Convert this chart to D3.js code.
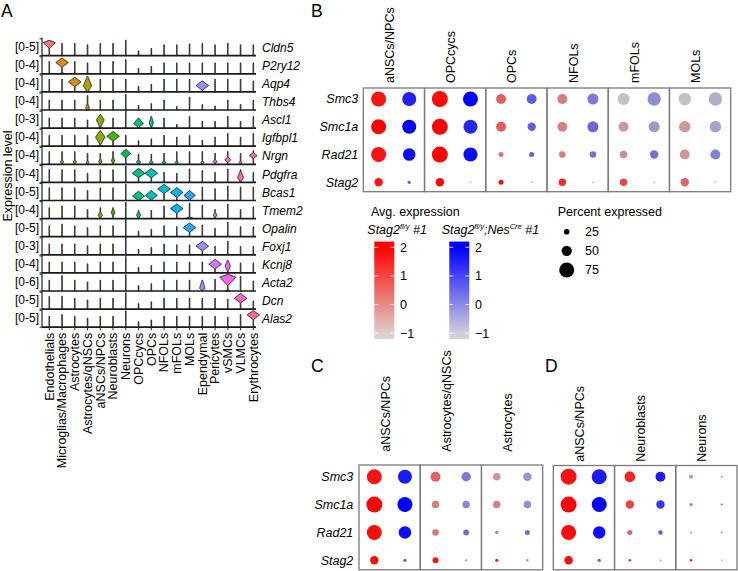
<!DOCTYPE html>
<html><head><meta charset="utf-8">
<script src="https://cdn.jsdelivr.net/npm/d3@7"></script>
<style>
body{margin:0;background:#fff;}
svg text{font-family:"Liberation Sans",Arial,Helvetica,sans-serif;fill:#000;}
</style></head><body>
<svg id="chart" width="738" height="571"></svg>
<script>
// ---------------- DATA ----------------
const cellTypesA = ["Endothelials","Microglias/Macrophages","Astrocytes","Astrocytes/qNSCs","aNSCs/NPCs","Neuroblasts","Neurons","OPCcycs","OPCs","NFOLs","mFOLs","MOLs","Ependymal","Pericytes","vSMCs","VLMCs","Erythrocytes"];
const genesA = ["Cldn5","P2ry12","Aqp4","Thbs4","Ascl1","Igfbpl1","Nrgn","Pdgfra","Bcas1","Tmem2","Opalin","Foxj1","Kcnj8","Acta2","Dcn","Alas2"];
const rangeLabelsA = ["[0-5]","[0-4]","[0-4]","[0-4]","[0-3]","[0-4]","[0-4]","[0-4]","[0-5]","[0-4]","[0-5]","[0-3]","[0-4]","[0-6]","[0-5]","[0-5]"];
// maximum expression per gene x cell type (fraction of the row's range)
const maxA = [
 [0.85,0.68,0.68,0.6,0.68,0.68,0.85,0.26,0.4,0.6,0.6,0.65,0.68,0.6,0.68,0.6,0.6],
 [0.68,0.86,0.68,0.6,0.68,0.68,0.78,0.3,0.4,0.6,0.6,0.6,0.6,0.6,0.6,0.6,0.6],
 [0.7,0.7,0.8,0.86,0.7,0.7,0.7,0.3,0.42,0.7,0.7,0.7,0.6,0.7,0.7,0.7,0.6],
 [0.55,0.55,0.55,0.8,0.55,0.55,0.85,0.25,0.35,0.55,0.2,0.7,0.3,0.22,0.55,0.3,0.55],
 [0.55,0.55,0.55,0.45,0.75,0.55,1.0,0.55,0.64,0.55,0.2,0.64,0.37,0.37,0.64,0.37,0.64],
 [0.6,0.6,0.6,0.6,0.85,0.8,0.6,0.3,0.4,0.6,0.5,0.6,0.33,0.5,0.7,0.5,0.7],
 [0.7,0.7,0.7,0.6,0.6,0.7,0.83,0.55,0.55,0.6,0.7,0.7,0.7,0.6,0.7,0.6,0.75],
 [0.7,0.7,0.7,0.5,0.7,0.7,0.9,0.76,0.76,0.55,0.5,0.74,0.65,0.55,0.74,0.7,0.55],
 [0.7,0.7,0.7,0.55,0.7,0.7,0.9,0.5,0.55,0.88,0.7,0.55,0.74,0.65,0.8,0.74,0.74],
 [0.6,0.7,0.7,0.5,0.6,0.6,0.9,0.45,0.45,0.7,0.8,0.85,0.74,0.5,0.8,0.5,0.65],
 [0.6,0.7,0.6,0.5,0.6,0.6,0.95,0.3,0.4,0.6,0.55,0.75,0.64,0.46,0.8,0.55,0.55],
 [0.6,0.6,0.6,0.5,0.6,0.6,1.0,0.3,0.4,0.6,0.55,0.55,0.74,0.46,0.74,0.46,0.46],
 [0.6,0.6,0.6,0.5,0.6,0.6,0.9,0.3,0.4,0.6,0.6,0.6,0.6,0.74,0.7,0.55,0.55],
 [0.6,0.85,0.6,0.5,0.6,0.6,0.9,0.3,0.4,0.6,0.6,0.6,0.6,0.65,0.92,0.8,0.55],
 [0.7,0.7,0.6,0.5,0.6,0.6,0.9,0.3,0.4,0.6,0.6,0.6,0.6,0.6,0.55,0.85,0.45],
 [0.6,0.7,0.6,0.5,0.6,0.6,0.9,0.3,0.4,0.6,0.6,0.6,0.6,0.6,0.55,0.7,0.9]
];
// violin bodies: [gene, cell, mode, spread above, spread below, density, density at zero]
const violinsA = [
 ["Cldn5","Endothelials",0.72,0.13,0.3,0.95,0],
 ["P2ry12","Microglias/Macrophages",0.62,0.24,0.24,1,0.35],
 ["Aqp4","Astrocytes",0.55,0.25,0.25,1,0],
 ["Aqp4","Astrocytes/qNSCs",0.33,0.53,0.3,0.65,0.5],
 ["Aqp4","Ependymal",0.35,0.25,0.25,1,0],
 ["Thbs4","Astrocytes/qNSCs",0.1,0.25,0.1,0.25,0.2],
 ["Ascl1","aNSCs/NPCs",0.45,0.3,0.4,0.6,0.2],
 ["Ascl1","OPCcycs",0.25,0.3,0.2,0.75,0.2],
 ["Ascl1","OPCs",0.28,0.36,0.25,0.3,0.1],
 ["Igfbpl1","aNSCs/NPCs",0.5,0.35,0.4,0.75,0.4],
 ["Igfbpl1","Neuroblasts",0.55,0.25,0.25,1,0],
 ["Nrgn","Neurons",0.59,0.24,0.22,0.75,0],
 ["Nrgn","Microglias/Macrophages",0.12,0.15,0.1,0.2,0],
 ["Nrgn","Astrocytes",0.12,0.15,0.1,0.2,0],
 ["Nrgn","Astrocytes/qNSCs",0.1,0.12,0.1,0.15,0],
 ["Nrgn","aNSCs/NPCs",0.15,0.15,0.12,0.2,0],
 ["Nrgn","Neuroblasts",0.2,0.15,0.15,0.25,0],
 ["Nrgn","OPCcycs",0.12,0.12,0.1,0.3,0],
 ["Nrgn","OPCs",0.1,0.12,0.1,0.25,0],
 ["Nrgn","NFOLs",0.1,0.1,0.1,0.25,0],
 ["Nrgn","mFOLs",0.1,0.1,0.1,0.2,0],
 ["Nrgn","Ependymal",0.1,0.1,0.1,0.2,0],
 ["Nrgn","Pericytes",0.15,0.12,0.1,0.3,0],
 ["Nrgn","vSMCs",0.25,0.15,0.15,0.45,0],
 ["Nrgn","VLMCs",0.1,0.1,0.1,0.15,0],
 ["Nrgn","Erythrocytes",0.48,0.15,0.15,0.6,0],
 ["Pdgfra","OPCcycs",0.51,0.25,0.25,1,0],
 ["Pdgfra","OPCs",0.51,0.25,0.25,1,0],
 ["Pdgfra","VLMCs",0.28,0.35,0.25,0.45,0],
 ["Bcas1","OPCcycs",0.24,0.26,0.24,0.95,0],
 ["Bcas1","OPCs",0.28,0.26,0.25,0.95,0],
 ["Bcas1","NFOLs",0.64,0.24,0.25,1,0],
 ["Bcas1","mFOLs",0.44,0.26,0.25,1,0],
 ["Bcas1","MOLs",0.28,0.26,0.25,0.9,0],
 ["Tmem2","mFOLs",0.55,0.25,0.25,1,0],
 ["Tmem2","aNSCs/NPCs",0.18,0.2,0.15,0.3,0],
 ["Tmem2","Neuroblasts",0.35,0.2,0.2,0.25,0],
 ["Tmem2","OPCcycs",0.18,0.2,0.15,0.3,0],
 ["Tmem2","Pericytes",0.2,0.15,0.15,0.25,0],
 ["Tmem2","MOLs",0.03,0.06,0.03,0.3,0.3],
 ["Opalin","MOLs",0.5,0.25,0.25,1,0],
 ["Foxj1","Ependymal",0.48,0.25,0.25,1,0],
 ["Kcnj8","Pericytes",0.48,0.26,0.25,1,0],
 ["Kcnj8","vSMCs",0.37,0.33,0.3,0.4,0],
 ["Acta2","vSMCs",0.76,0.16,0.46,1.3,0.35],
 ["Acta2","Ependymal",0.15,0.45,0.15,0.4,0],
 ["Dcn","VLMCs",0.6,0.25,0.25,1,0],
 ["Alas2","Erythrocytes",0.68,0.22,0.25,1,0]
];

const genesDot = ["Smc3","Smc1a","Rad21","Stag2"];
const genotypes = ["Stag2fl/y #1","Stag2fl/y;NesCre #1"];
// Panel B
const cellsB = ["aNSCs/NPCs","OPCcycs","OPCs","NFOLs","mFOLs","MOLs"];
const avgB_ctrl = [[1.7,2.0,1.7,1.6],[1.8,2.0,2.0,2.0],[0.5,0.6,0.2,1.8],[0.1,0.0,0.1,1.3],[-1.0,-0.3,-0.2,0.9],[-1.0,-0.4,-0.3,0.4]];
const avgB_mut  = [[1.5,2.0,1.8,0.5],[2.0,1.4,1.85,-0.8],[0.6,0.5,0.5,-0.8],[0.1,0.4,0.3,-0.8],[-0.2,-0.4,0.3,-0.8],[-0.7,-0.5,0.0,-0.8]];
const pctB_ctrl = [[75,75,75,40],[80,80,80,40],[48,48,22,22],[48,48,30,35],[59,48,35,35],[62,57,48,40]];
const pctB_mut  = [[70,70,62,13],[75,70,70,5],[48,40,22,5],[54,54,30,5],[66,54,40,5],[66,57,48,5]];
// Panel C
const cellsC = ["aNSCs/NPCs","Astrocytes/qNSCs","Astrocytes"];
const avgC_ctrl = [[1.7,2.0,1.8,1.8],[0.5,0.0,0.2,1.7],[-0.3,0.0,0.2,1.5]];
const avgC_mut  = [[1.6,2.0,1.8,0.5],[0.1,-0.1,0.3,0.0],[-0.3,-0.2,0.3,-0.3]];
const pctC_ctrl = [[75,80,75,40],[48,35,30,27],[35,35,13,13]];
const pctC_mut  = [[70,75,62,13],[45,35,27,6],[40,35,22,8]];
// Panel D
const cellsD = ["aNSCs/NPCs","Neuroblasts","Neurons"];
const avgD_ctrl = [[1.7,2.0,1.8,1.8],[1.5,1.0,0.5,1.3],[-0.2,0.1,-0.3,1.8]];
const avgD_mut  = [[1.6,2.0,1.8,0.5],[1.6,1.2,0.6,-0.3],[-0.3,0.4,-0.3,-0.8]];
const pctD_ctrl = [[80,80,75,40],[52,40,22,9],[17,13,6,8]];
const pctD_mut  = [[75,75,62,13],[48,40,19,5],[6,6,6,4]];
// legends
const avgTicks = [2,1,0,-1];
const pctTicks = [25,50,75];

// ---------------- STYLES ----------------
const hue17 = ["#F8766D","#E7851E","#D09400","#B2A100","#89AC00","#45B500","#00BC51","#00C087","#00C0B2","#00BCD6","#00B3F2","#29A3FF","#9C8DFF","#D277FF","#F166E8","#FF61C7","#FF689E"];

const svg = d3.select("#chart");

// ---------------- PANEL A ----------------
const xA = d3.scaleBand().domain(cellTypesA).range([42.9, 259.7]);
const rowA = d3.scaleBand().domain(genesA).range([37.6, 327.2]);
const rh = rowA.bandwidth();
const wA = d3.scaleLinear().domain([0, 1]).range([0, 6.0]);
const colorA = d3.scaleOrdinal().domain(cellTypesA).range(hue17);
const gA = svg.append("g");

genesA.forEach((g, gi) => {
  const base = rowA(g) + rh;
  const tY = d3.scaleLinear().domain([0, 1]).range([base, base - rh]);
  cellTypesA.forEach((c, ci) => {
    const mx = maxA[gi][ci];
    const specs = violinsA.filter(v => v[0] === g && v[1] === c);
    const cx = xA(c) + xA.bandwidth() / 2;
    const n = 60;
    const pts = d3.range(n + 1).map(k => {
      const t = mx * k / n;
      let d = 0;
      specs.forEach(s => {
        const [, , m, up, dn, dens, b] = s;
        const tri = t < m ? 1 - (m - t) / dn : 1 - (t - m) / up;
        d += dens * Math.max(0, tri) + b * Math.max(0, 1 - t / 0.08);
      });
      return {t, w: wA(d) + 0.3};
    });
    const area = d3.area().y(p => tY(p.t)).x0(p => cx - p.w).x1(p => cx + p.w);
    gA.append("path").attr("d", area(pts)).attr("fill", colorA(c))
      .attr("stroke", "#1e1e1e").attr("stroke-width", 1.0).attr("stroke-linejoin", "miter");
  });
  // baseline
  gA.append("line").attr("x1", 42).attr("x2", 256).attr("y1", base).attr("y2", base)
    .attr("stroke", "#1a1a1a").attr("stroke-width", 1.7);
  // range label
  gA.append("text").attr("x", 39).attr("y", base - rh / 2).attr("dy", "0.35em")
    .attr("text-anchor", "end").attr("font-size", 12).text(rangeLabelsA[gi]);
  // gene label
  gA.append("text").attr("x", 262).attr("y", base - rh / 2 + 1).attr("dy", "0.35em")
    .attr("font-size", 12).attr("font-style", "italic").text(g);
  // y axis ticks
  gA.append("line").attr("x1", 39.5).attr("x2", 42).attr("y1", base).attr("y2", base).attr("stroke", "#222");
  gA.append("line").attr("x1", 39.5).attr("x2", 42).attr("y1", base - rh + 1.2).attr("y2", base - rh + 1.2).attr("stroke", "#222");
});
gA.append("line").attr("x1", 42).attr("x2", 42).attr("y1", 37.6).attr("y2", 327.2)
  .attr("stroke", "#222").attr("stroke-width", 1.2);
// x axis ticks and labels
const lastBase = rowA(genesA[genesA.length - 1]) + rh;
cellTypesA.forEach(c => {
  const cx = xA(c) + xA.bandwidth() / 2;
  gA.append("line").attr("x1", cx).attr("x2", cx).attr("y1", lastBase).attr("y2", lastBase + 3)
    .attr("stroke", "#222");
  gA.append("text").attr("transform", `translate(${cx},${lastBase + 5.5}) rotate(-90)`)
    .attr("dy", "0.35em").attr("text-anchor", "end").attr("font-size", 12.5).text(c);
});
gA.append("text").attr("transform", "translate(8,176) rotate(-90)").attr("dy", "0.35em")
  .attr("text-anchor", "middle").attr("font-size", 12.5).text("Expression level");

// ---------------- DOT PLOTS ----------------
const ctrlColor = d3.scaleLinear().domain([-1, 2]).range(["#C2C2C2", "#FF0000"]).clamp(true);
const mutColor = d3.scaleLinear().domain([-1, 2]).range(["#C2C2C2", "#0000FF"]).clamp(true);
const rScale = d3.scaleLinear().domain([0, 100]).range([0.45, 9.85]);

function dotPanel(cells, avgCtrl, avgMut, pctCtrl, pctMut, box, rowRange, headerBase, showGenes, geneRight) {
  const g = svg.append("g");
  const fx = d3.scaleBand().domain(cells).range([box.x0, box.x1]);
  const gx = d3.scalePoint().domain(genotypes).range([0, fx.bandwidth()]).padding(0.5);
  const gy = d3.scalePoint().domain(genesDot).range(rowRange);
  cells.forEach((c, ci) => {
    g.append("rect").attr("x", fx(c)).attr("y", box.y0).attr("width", fx.bandwidth())
      .attr("height", box.y1 - box.y0).attr("fill", "none").attr("stroke", "#7a7a7a").attr("stroke-width", 1.3);
    const cx = fx(c) + fx.bandwidth() / 2;
    g.append("text").attr("transform", `translate(${cx},${headerBase}) rotate(-90)`)
      .attr("text-anchor", "start").attr("font-size", 12.5).text(c);
    genesDot.forEach((gene, gi) => {
      g.append("circle").attr("cx", fx(c) + gx(genotypes[0])).attr("cy", gy(gene))
        .attr("r", rScale(pctCtrl[ci][gi])).attr("fill", ctrlColor(avgCtrl[ci][gi]));
      g.append("circle").attr("cx", fx(c) + gx(genotypes[1])).attr("cy", gy(gene))
        .attr("r", rScale(pctMut[ci][gi])).attr("fill", mutColor(avgMut[ci][gi]));
    });
  });
  if (showGenes) {
    genesDot.forEach(gene => {
      g.append("text").attr("x", geneRight).attr("y", gy(gene)).attr("dy", "0.35em")
        .attr("text-anchor", "end").attr("font-size", 12.5).attr("font-style", "italic").text(gene);
    });
  }
}

dotPanel(cellsB, avgB_ctrl, avgB_mut, pctB_ctrl, pctB_mut, {x0: 363.3, x1: 730.7, y0: 88, y1: 191.7}, [99, 182.3], 83, true, 358.3);
dotPanel(cellsC, avgC_ctrl, avgC_mut, pctC_ctrl, pctC_mut, {x0: 359, x1: 542.7, y0: 465, y1: 569.8}, [476.7, 560.3], 451.7, true, 353.3);
dotPanel(cellsD, avgD_ctrl, avgD_mut, pctD_ctrl, pctD_mut, {x0: 553.3, x1: 737.0, y0: 465.5, y1: 569.8}, [476.7, 560.3], 461.7, false, 0);

// ---------------- LEGENDS ----------------
const lg = svg.append("g");
lg.append("text").attr("x", 371).attr("y", 216).attr("font-size", 12.5).text("Avg. expression");
function genoLabel(x, parts) {
  const t = lg.append("text").attr("x", x).attr("y", 234).attr("font-size", 12.5).attr("font-style", "italic");
  parts.forEach(p => {
    const ts = t.append("tspan").text(p[0]);
    if (p[1]) ts.attr("font-size", 7.5).attr("dy", -5);
    else if (p[2]) ts.attr("dy", 5);
  });
}
genoLabel(367.3, [["Stag2"], ["fl/y", true], [" #1", false, true]]);
genoLabel(441.7, [["Stag2"], ["fl/y", true], [";Nes", false, true], ["Cre", true], [" #1", false, true]]);

const vY = d3.scaleLinear().domain([-1, 2]).range([333.2, 247.3]);
const defs = svg.append("defs");
function colorBar(id, x, scaleC, lowCol) {
  const grad = defs.append("linearGradient").attr("id", id).attr("x1", 0).attr("x2", 0).attr("y1", 1).attr("y2", 0);
  const vals = d3.range(-1.2, 2.21, 0.1);
  vals.forEach(v => {
    const col = d3.interpolateRgb(lowCol, scaleC(2))(Math.max(0, Math.min(1, (v + 1) / 3)));
    grad.append("stop").attr("offset", (v + 1.2) / 3.4).attr("stop-color", col);
  });
  lg.append("rect").attr("x", x).attr("y", vY(2.2)).attr("width", 20).attr("height", vY(-1.2) - vY(2.2))
    .attr("fill", `url(#${id})`);
  avgTicks.forEach(v => {
    lg.append("line").attr("x1", x).attr("x2", x + 4).attr("y1", vY(v)).attr("y2", vY(v)).attr("stroke", "#fff").attr("stroke-width", 0.8);
    lg.append("line").attr("x1", x + 16).attr("x2", x + 20).attr("y1", vY(v)).attr("y2", vY(v)).attr("stroke", "#fff").attr("stroke-width", 0.8);
    lg.append("text").attr("x", x + 25.7).attr("y", vY(v)).attr("dy", "0.35em").attr("font-size", 12.5)
      .text(v < 0 ? "\u2212" + Math.abs(v) : v);
  });
}
colorBar("gradRed", 374.3, ctrlColor, "#DCCFCC");
colorBar("gradBlue", 449.3, mutColor, "#D2CEDC");

lg.append("text").attr("x", 557.7).attr("y", 216).attr("font-size", 12.5).text("Percent expressed");
const pY = d3.scalePoint().domain(pctTicks).range([231.7, 270]);
pctTicks.forEach(p => {
  lg.append("circle").attr("cx", 566.7).attr("cy", pY(p)).attr("r", rScale(p)).attr("fill", "#000");
  lg.append("text").attr("x", 585).attr("y", pY(p)).attr("dy", "0.35em").attr("font-size", 12.5).text(p);
});

// ---------------- PANEL LETTERS ----------------
[["A", 1, 17], ["B", 311, 17], ["C", 311, 372], ["D", 545, 372]].forEach(([l, x, y]) => {
  svg.append("text").attr("x", x).attr("y", y).attr("font-size", 17.5).text(l);
});
</script></body></html>
